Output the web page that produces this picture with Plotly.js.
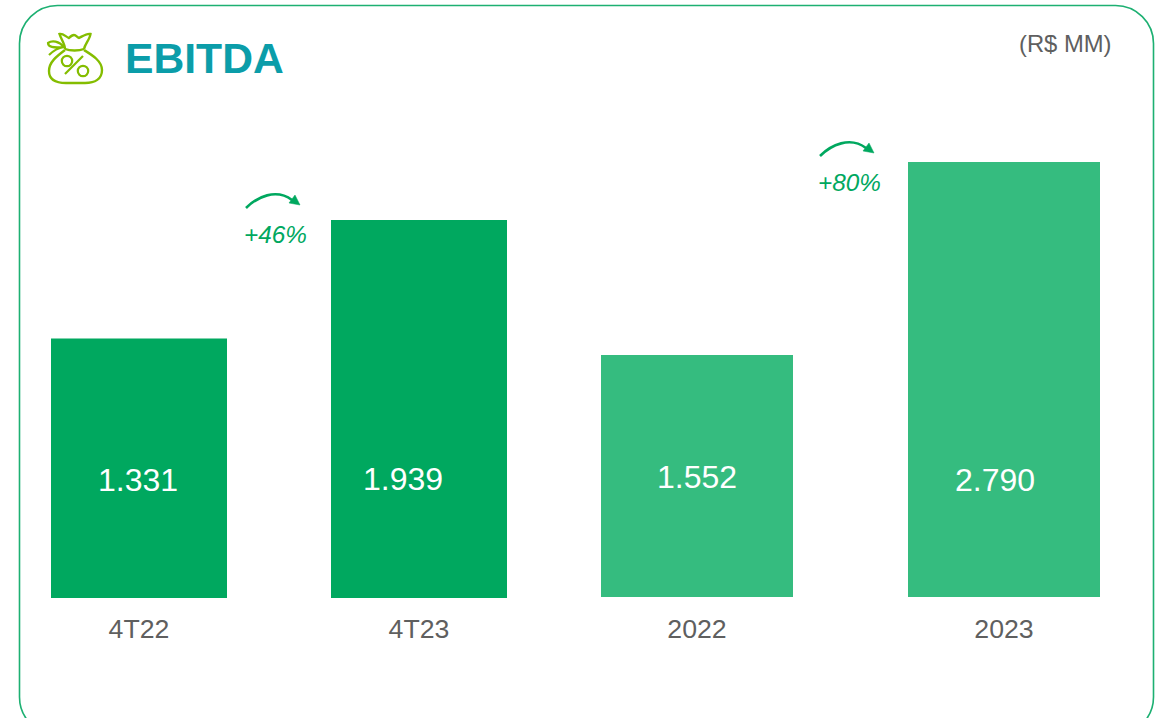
<!DOCTYPE html>
<html>
<head>
<meta charset="utf-8">
<script src="https://cdn.plot.ly/plotly-3.0.1.min.js"></script>
<style>html,body{margin:0;padding:0;background:#fff;overflow:hidden}#c{width:1160px;height:718px}</style>
</head>
<body>
<div id="c"></div>
<script>
var quarterCategories = ['4T22', '4T23'];
var quarterValues = [1331, 1939];
var yearCategories = ['2022', '2023'];
var yearValues = [1552, 2790];
var growthLabels = ['+46%', '+80%'];
var titleText = 'EBITDA';
var unitText = '(R$ MM)';

var W = 1160, H = 718;
var GREEN = '#00A85F', LIGHT = '#35BC7F', TEAL = '#0B9DA9', GREY = '#5F5F5F', OLIVE = '#84BD00';
var FONT = '"Liberation Sans", Arial, sans-serif';

function fx(v){ return (v / W).toFixed(5); }
function fy(v){ return (1 - v / H).toFixed(5); }
// converts a path written in page pixels into paper fractions
function P(str){
  var isX = true;
  return str.replace(/-?\d+(\.\d+)?/g, function(m){
    var r = isX ? fx(+m) : fy(+m); isX = !isX; return r;
  });
}
function fmt(v){ return String(v).replace(/\B(?=(\d{3})+$)/, '.'); }
function pathShape(d, color, width, fill){
  return {type:'path', xref:'paper', yref:'paper', path:P(d), layer:'above',
    line:{color:color, width:width}, fillcolor:fill || 'rgba(0,0,0,0)'};
}
function circle(cx, cy, r){
  return 'M '+(cx-r)+' '+cy+' C '+(cx-r)+' '+(cy-r*0.55)+' '+(cx-r*0.55)+' '+(cy-r)+' '+cx+' '+(cy-r)+
    ' C '+(cx+r*0.55)+' '+(cy-r)+' '+(cx+r)+' '+(cy-r*0.55)+' '+(cx+r)+' '+cy+
    ' C '+(cx+r)+' '+(cy+r*0.55)+' '+(cx+r*0.55)+' '+(cy+r)+' '+cx+' '+(cy+r)+
    ' C '+(cx-r*0.55)+' '+(cy+r)+' '+(cx-r)+' '+(cy+r*0.55)+' '+(cx-r)+' '+cy+' Z';
}
function arrow(dx, dy){
  var a = pathShape('M '+(246+dx)+' '+(208+dy)+' C '+(257+dx)+' '+(197+dy)+' '+(276+dx)+' '+(188+dy)+' '+(292+dx)+' '+(200+dy), GREEN, 2.6);
  var b = pathShape('M '+(300+dx)+' '+(205+dy)+' L '+(295+dx)+' '+(195+dy)+' L '+(289+dx)+' '+(203+dy)+' Z', GREEN, 0.5, GREEN);
  return [a, b];
}

// frame
var fL = 19.5, fT = 5.5, fR = 1153.5, fB = 735, rad = 38, k = rad * 0.45;
var frame = pathShape('M '+(fL+rad)+' '+fT+' L '+(fR-rad)+' '+fT+' C '+(fR-k)+' '+fT+' '+fR+' '+(fT+k)+' '+fR+' '+(fT+rad)+
  ' L '+fR+' '+(fB-rad)+' C '+fR+' '+(fB-k)+' '+(fR-k)+' '+fB+' '+(fR-rad)+' '+fB+' L '+(fL+rad)+' '+fB+
  ' C '+(fL+k)+' '+fB+' '+fL+' '+(fB-k)+' '+fL+' '+(fB-rad)+' L '+fL+' '+(fT+rad)+' C '+fL+' '+(fT+k)+' '+(fL+k)+' '+fT+' '+(fL+rad)+' '+fT+' Z', '#1DB072', 1.6);

// money bag icon
var icon = [
  pathShape('M 65 50 C 57 56 49 62 49 71 C 49 80 57 83 66 83 L 85 83 C 95 83 102 79 102 70 C 102 61 92 55 84 50', OLIVE, 2.4),
  pathShape('M 65 49 C 70 51 79 51 84 49', OLIVE, 2.4),
  pathShape('M 65 49 C 65 44 61 39 59.5 34 C 63 33 66 37 69 38 C 71 36 72 35 74 35 C 76 35 77 37 79 38 C 83 36 87 33 90.5 34 C 90 39 85 44 84 49', OLIVE, 2.4),
  pathShape('M 64 47 C 59 41 52 40 48 43 C 48 47 53 48 64 47 C 58 48 53 51 49 55', OLIVE, 2.2),
  pathShape('M 65 74 L 83 56', OLIVE, 2.2),
  pathShape(circle(67, 61, 5.2), OLIVE, 2.2),
  pathShape(circle(83, 71, 5.2), OLIVE, 2.2)
];

var shapes = [frame].concat(arrow(0, 0), arrow(574, -52), icon);

function pageAnn(text, x, y, size, color){
  return {text:text, xref:'paper', yref:'paper', x:x / W, y:1 - y / H, xanchor:'center', yanchor:'middle',
    showarrow:false, font:{family:FONT, size:size, color:color}, borderpad:0};
}
function valueAnn(value, idx, axis, y, shift){
  return {text:fmt(value), xref:axis, yref:'paper', x:idx, y:1 - y / H, xshift:shift, xanchor:'center', yanchor:'middle',
    showarrow:false, font:{family:FONT, size:32, color:'#FFFFFF'}};
}
var annotations = [
  pageAnn('<b>' + titleText + '</b>', 204, 58, 42.67, TEAL),
  pageAnn(unitText, 1065.5, 44, 23.8, GREY),
  pageAnn('<i>' + growthLabels[0] + '</i>', 275.5, 235, 24.3, GREEN),
  pageAnn('<i>' + growthLabels[1] + '</i>', 849.5, 183, 24.3, GREEN),
  valueAnn(quarterValues[0], 0, 'x', 480, -1),
  valueAnn(quarterValues[1], 1, 'x', 479, -16),
  valueAnn(yearValues[0], 0, 'x2', 477, 0),
  valueAnn(yearValues[1], 1, 'x2', 480, -9)
];

var traces = [
  {type:'bar', x:quarterCategories, y:quarterValues, xaxis:'x', yaxis:'y', width:176/280,
   marker:{color:GREEN, line:{width:0}}, hoverinfo:'x+y'},
  {type:'bar', x:yearCategories, y:yearValues, xaxis:'x2', yaxis:'y2', width:192/307,
   marker:{color:LIGHT, line:{width:0}}, hoverinfo:'x+y'}
];

var tickStyle = {type:'category', showgrid:false, zeroline:false, showline:false, ticks:'outside', ticklen:7,
  tickcolor:'rgba(0,0,0,0)', tickwidth:0, fixedrange:true,
  tickfont:{family:FONT, size:26.7, color:GREY}};
var xL = Object.assign({}, tickStyle, {domain:[0, 543/W], range:[(0-139)/280, (543-139)/280], anchor:'y', categoryorder:'array', categoryarray:quarterCategories});
var xR = Object.assign({}, tickStyle, {ticklen:8, domain:[543/W, 1], range:[(543-697)/307, (1160-697)/307], anchor:'y2', categoryorder:'array', categoryarray:yearCategories});

var layout = {
  width:W, height:H, margin:{l:0, r:0, t:0, b:0}, paper_bgcolor:'#fff', plot_bgcolor:'rgba(0,0,0,0)',
  showlegend:false, dragmode:false,
  xaxis:xL, xaxis2:xR,
  yaxis:{domain:[(H-598)/H, 1], range:[0, 598/0.195], visible:false, anchor:'x', fixedrange:true},
  yaxis2:{domain:[(H-597)/H, 1], range:[0, 597/0.1559], visible:false, anchor:'x2', fixedrange:true},
  shapes:shapes, annotations:annotations
};
Plotly.newPlot('c', traces, layout, {displayModeBar:false, responsive:false});
</script>
</body>
</html>
